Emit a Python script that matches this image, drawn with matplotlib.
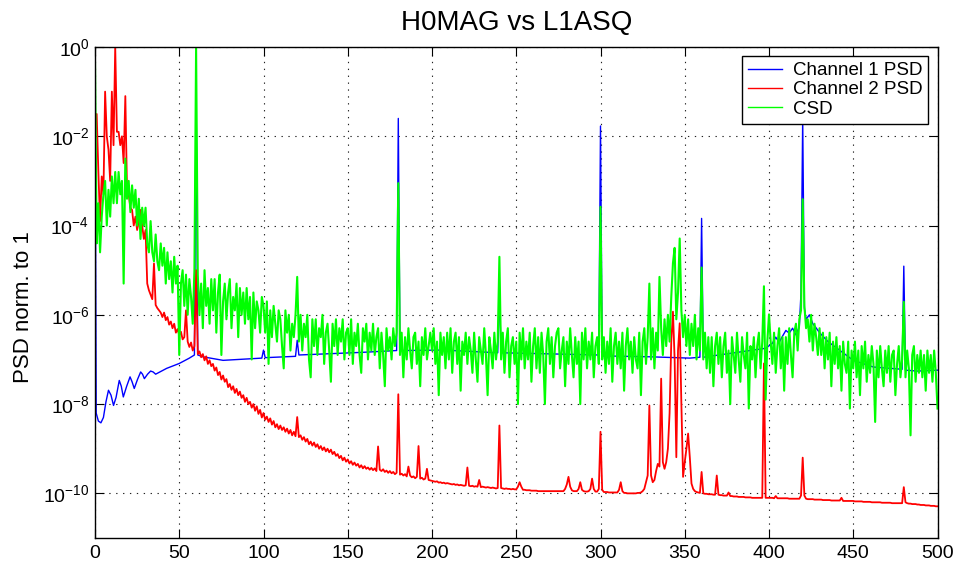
import numpy as np
import matplotlib
matplotlib.use("Agg")
import matplotlib.pyplot as plt
from matplotlib.ticker import LogFormatterSciNotation, NullLocator, FixedLocator

plt.rcParams['font.family'] = ['Liberation Sans', 'DejaVu Sans']
plt.rcParams['mathtext.fontset'] = 'custom'
plt.rcParams['mathtext.rm'] = 'Liberation Sans'
plt.rcParams['path.simplify'] = False

# ---------------------------------------------------------------- data
title = "H0MAG vs L1ASQ"
ylabel = "PSD norm. to 1"
series_names = ["Channel 1 PSD", "Channel 2 PSD", "CSD"]
x_ticks = [0, 50, 100, 150, 200, 250, 300, 350, 400, 450, 500]
y_ticks_exp = [0, -2, -4, -6, -8, -10]

# frequency grid (Hz) shared by channel 2 PSD and CSD
freq = list(range(0, 501))

# channel 1 PSD: frequency knots (Hz) and log10 values
ch1_freq = [0, 0.7, 2, 3.5, 5, 6.5, 8, 9.5, 11, 12.5, 14.4, 15.6, 16.8, 18.8,
            20.8, 22, 23.3, 25.2, 27.1, 28.2, 29.3, 31.2, 33, 34.5, 36, 39,
            42.5, 50, 56, 59, 60, 61, 64, 76, 99, 100, 101, 119, 120, 121,
            159, 179, 180, 181, 207, 239, 240, 241, 299, 300, 301, 329, 353,
            359, 360, 361, 398, 402, 404, 406, 408, 410, 412, 414, 416, 418,
            419, 420, 421, 422, 424, 426, 427.7, 430, 435, 450, 462, 479,
            480, 481, 488, 500]
ch1_log = [-0.5, -8.2, -8.38, -8.42, -8.3, -7.95, -7.69, -7.8, -8.03, -7.85,
           -7.47, -7.6, -7.84, -7.6, -7.39, -7.5, -7.65, -7.45, -7.28, -7.33,
           -7.43, -7.33, -7.26, -7.28, -7.33, -7.27, -7.2, -7.09, -6.97, -6.9,
           -1.0, -6.9, -6.94, -7.02, -6.97, -6.79, -6.96, -6.93, -6.57, -6.9,
           -6.84, -6.8, -1.6, -6.8, -6.79, -6.85, -5.5, -6.85, -6.9, -1.77,
           -6.92, -6.94, -6.97, -6.95, -3.84, -6.95, -6.75, -6.64, -6.5,
           -6.62, -6.48, -6.35, -6.41, -6.3, -6.45, -6.27, -5.5, -1.6, -5.85,
           -6.1, -6.0, -6.2, -6.28, -6.4, -6.6, -7.02, -7.17, -7.22, -4.91,
           -7.24, -7.26, -7.24]

# channel 2 PSD: log10 value at each 1 Hz bin
ch2_log = [
    -1.6, -1.5, -2.8, -3.9, -2.9, -3.3, -1.0, -2.0, -2.3, -3.0,
    -1.0, -2.2, 0.0, -1.9, -1.9, -2.2, -2.0, -2.6, -1.1, -3.2,
    -3.3, -3.6, -3.65, -4.0, -3.8, -4.1, -3.9, -3.65, -4.0, -4.3,
    -4.1, -5.3, -5.45, -5.55, -5.65, -4.85, -5.78, -5.85, -5.9, -5.95,
    -6.05, -5.95, -6.12, -6.05, -6.22, -6.15, -6.3, -6.2, -6.4, -6.32,
    -6.45, -6.38, -6.55, -6.5, -5.9, -6.6, -6.72, -6.62, -6.8, -6.7,
    -5.0, -6.88, -6.82, -6.95, -6.88, -7.02, -6.93, -7.1, -7.02, -7.15,
    -7.1, -7.25, -7.18, -7.35, -7.28, -7.45, -7.36, -7.5, -7.44, -7.62,
    -7.55, -7.68, -7.6, -7.75, -7.66, -7.8, -7.72, -7.86, -7.8, -7.95,
    -7.86, -8.0, -7.95, -8.08, -8.0, -8.15, -8.05, -8.22, -8.13, -8.3,
    -8.2, -8.35, -8.28, -8.4, -8.32, -8.46, -8.38, -8.52, -8.45, -8.56,
    -8.48, -8.58, -8.52, -8.62, -8.55, -8.66, -8.58, -8.7, -8.62, -8.72,
    -8.29, -8.74, -8.7, -8.8, -8.74, -8.84, -8.78, -8.9, -8.84, -8.93,
    -8.86, -8.96, -8.9, -9.0, -8.94, -9.03, -8.97, -9.06, -9.0, -9.08,
    -9.02, -9.12, -9.07, -9.16, -9.12, -9.21, -9.16, -9.26, -9.2, -9.29,
    -9.24, -9.33, -9.28, -9.36, -9.31, -9.38, -9.34, -9.42, -9.37, -9.44,
    -9.39, -9.45, -9.42, -9.47, -9.43, -9.48, -9.44, -9.5, -8.95, -9.47,
    -9.5, -9.46, -9.52, -9.49, -9.54, -9.5, -9.55, -9.52, -9.57, -9.54,
    -7.78, -9.58, -9.56, -9.6, -9.57, -9.62, -9.4, -9.6, -9.64, -9.62,
    -9.66, -9.63, -8.94, -9.67, -9.65, -9.69, -9.67, -9.45, -9.7, -9.71,
    -9.72, -9.73, -9.74, -9.73, -9.76, -9.75, -9.77, -9.76, -9.78, -9.77,
    -9.78, -9.79, -9.8, -9.79, -9.81, -9.8, -9.82, -9.81, -9.82, -9.83,
    -9.82, -9.42, -9.83, -9.84, -9.83, -9.85, -9.84, -9.85, -9.7, -9.86,
    -9.85, -9.86, -9.87, -9.86, -9.87, -9.88, -9.87, -9.88, -9.89, -9.88,
    -8.48, -9.88, -9.89, -9.9, -9.89, -9.9, -9.9, -9.91, -9.9, -9.91,
    -9.91, -9.85, -9.75, -9.85, -9.92, -9.92, -9.93, -9.93, -9.93, -9.94,
    -9.94, -9.94, -9.94, -9.95, -9.95, -9.95, -9.95, -9.95, -9.95, -9.95,
    -9.95, -9.95, -9.95, -9.95, -9.95, -9.95, -9.95, -9.95, -9.95, -9.9,
    -9.8, -9.63, -9.85, -9.93, -9.95, -9.95, -9.95, -9.9, -9.75, -9.92,
    -9.95, -9.96, -9.96, -9.95, -9.9, -9.67, -9.9, -9.96, -9.96, -9.9,
    -8.62, -9.92, -9.97, -9.97, -9.97, -9.98, -9.98, -9.98, -9.98, -9.98,
    -9.98, -9.92, -9.75, -9.95, -9.99, -9.99, -10.0, -10.0, -10.0, -10.0,
    -10.0, -10.0, -9.99, -9.99, -9.98, -9.95, -9.9, -9.75, -9.6, -8.03,
    -9.6, -9.75, -9.7, -9.5, -9.34, -9.4, -7.43, -9.3, -9.45, -9.3,
    -9.0, -8.2, -6.6, -5.93, -7.0, -9.19, -6.8, -6.19, -8.0, -9.63,
    -9.3, -9.0, -8.66, -9.19, -9.78, -9.9, -9.95, -9.97, -9.98, -9.99,
    -9.52, -10.0, -10.01, -10.01, -10.02, -10.02, -10.02, -10.03, -10.03, -9.6,
    -10.03, -10.04, -10.04, -10.05, -10.05, -10.05, -9.98, -10.06, -10.06, -10.07,
    -10.07, -10.07, -10.08, -10.08, -10.08, -10.08, -10.09, -10.09, -10.09, -10.09,
    -10.1, -10.1, -10.1, -10.1, -10.1, -10.1, -10.1, -7.09, -10.1, -10.1,
    -10.1, -10.1, -10.1, -10.11, -10.06, -10.11, -10.11, -10.11, -10.11, -10.11,
    -10.11, -10.11, -10.12, -10.12, -10.12, -10.12, -10.12, -10.12, -10.12, -10.05,
    -9.2, -10.05, -10.12, -10.13, -10.13, -10.13, -10.13, -10.14, -10.14, -10.14,
    -10.14, -10.14, -10.15, -10.15, -10.15, -10.15, -10.15, -10.16, -10.16, -10.16,
    -10.16, -10.16, -10.16, -10.1, -10.17, -10.17, -10.17, -10.17, -10.17, -10.17,
    -10.17, -10.18, -10.18, -10.18, -10.18, -10.18, -10.19, -10.19, -10.19, -10.19,
    -10.19, -10.2, -10.2, -10.2, -10.2, -10.2, -10.2, -10.21, -10.21, -10.21,
    -10.21, -10.21, -10.21, -10.22, -10.22, -10.22, -10.22, -10.22, -10.22, -10.22,
    -9.86, -10.2, -10.22, -10.23, -10.23, -10.24, -10.24, -10.24, -10.25, -10.25,
    -10.26, -10.26, -10.26, -10.27, -10.27, -10.27, -10.28, -10.28, -10.28, -10.29,
    -10.29,
]

# cross spectral density: log10 value at each 1 Hz bin
csd_log = [
    -0.35, -4.4, -3.5, -4.6, -3.8, -3.3, -3.0, -4.0, -3.2, -3.8,
    -2.9, -3.5, -2.8, -3.5, -2.8, -3.3, -3.0, -5.3, -2.5, -3.4,
    -3.0, -3.7, -3.1, -3.6, -3.2, -4.0, -3.4, -4.3, -3.6, -4.0,
    -3.6, -4.4, -4.6, -3.9, -4.6, -4.8, -4.2, -4.8, -5.0, -4.4,
    -4.9, -4.5, -5.3, -4.6, -5.2, -4.8, -5.5, -4.7, -5.3, -4.9,
    -6.9, -5.3, -5.0, -5.8, -5.1, -6.0, -5.2, -5.6, -6.2, -5.0,
    0.0, -5.1, -6.0, -5.3, -6.3, -5.0, -5.8, -5.4, -6.2, -5.2,
    -5.9, -5.2, -6.4, -5.5, -5.1, -6.9, -5.7, -5.3, -6.1, -5.5,
    -5.2, -6.3, -5.6, -5.9, -5.3, -6.5, -5.4, -6.0, -5.5, -6.2,
    -5.4, -6.1, -5.6, -7.0, -5.5, -6.3, -5.7, -5.9, -6.4, -5.6,
    -5.8, -6.4, -5.7, -7.1, -5.9, -6.5, -5.8, -6.2, -6.6, -5.9,
    -6.1, -6.7, -7.2, -5.9, -6.4, -6.0, -6.8, -6.2, -6.5, -6.0,
    -5.15, -6.6, -6.0, -6.8, -6.2, -6.5, -6.0, -7.0, -7.4, -6.1,
    -6.7, -6.1, -6.9, -6.3, -6.5, -6.0, -7.1, -6.4, -6.2, -6.8,
    -7.5, -6.2, -6.7, -6.1, -6.9, -6.3, -6.6, -6.1, -7.0, -6.4,
    -6.3, -6.9, -6.1, -7.1, -6.4, -6.7, -6.2, -6.9, -7.3, -6.3,
    -6.6, -6.2, -7.0, -6.4, -6.8, -6.2, -6.9, -6.5, -6.3, -7.2,
    -6.4, -6.9, -7.6, -6.3, -6.8, -6.5, -7.0, -6.3, -6.7, -6.4,
    -3.05, -6.9, -6.4, -7.4, -6.5, -7.0, -6.3, -6.8, -7.2, -6.5,
    -6.4, -7.1, -6.6, -7.6, -6.5, -6.9, -6.3, -7.0, -6.7, -6.4,
    -6.8, -6.3, -7.1, -6.6, -7.8, -6.4, -6.9, -6.5, -7.2, -6.4,
    -7.0, -6.3, -7.3, -6.6, -6.4, -7.1, -6.5, -7.7, -6.6, -6.9,
    -6.4, -7.1, -6.5, -6.8, -7.3, -6.4, -7.0, -7.5, -6.5, -6.8,
    -7.1, -6.3, -6.9, -7.8, -6.5, -6.8, -7.2, -6.4, -7.0, -6.6,
    -4.7, -7.0, -6.4, -7.3, -6.6, -6.3, -7.4, -6.7, -6.5, -7.1,
    -6.6, -8.0, -6.4, -7.0, -6.3, -7.2, -6.6, -7.0, -6.4, -7.5,
    -6.7, -6.3, -7.2, -6.5, -7.3, -6.4, -6.9, -8.0, -6.6, -6.3,
    -7.1, -6.5, -7.4, -6.7, -6.4, -6.3, -7.2, -6.8, -6.5, -7.6,
    -6.6, -7.1, -6.3, -6.9, -7.4, -6.5, -7.1, -6.6, -8.0, -6.4,
    -7.0, -6.3, -7.2, -6.6, -7.0, -6.4, -7.4, -6.7, -6.5, -7.1,
    -3.58, -7.0, -6.5, -7.3, -6.6, -7.1, -6.3, -7.5, -6.7, -6.4,
    -7.1, -6.6, -7.2, -6.4, -7.7, -6.7, -6.3, -7.0, -6.6, -7.3,
    -6.5, -7.0, -7.2, -6.4, -7.8, -6.6, -6.3, -7.1, -6.5, -5.3,
    -7.0, -6.3, -7.2, -6.4, -6.8, -5.15, -6.3, -6.9, -6.1, -6.7,
    -6.0, -6.6, -5.6, -4.84, -4.5, -6.1, -5.5, -4.29, -5.9, -6.5,
    -6.0, -6.7, -6.1, -6.9, -6.2, -6.7, -6.0, -7.0, -6.3, -6.8,
    -4.94, -7.0, -6.4, -7.2, -6.5, -7.3, -6.5, -7.6, -6.7, -6.4,
    -7.1, -6.5, -7.4, -6.7, -6.4, -7.3, -6.8, -8.0, -6.5, -6.9,
    -7.3, -6.4, -7.0, -7.5, -6.5, -6.9, -7.2, -6.4, -8.1, -6.7,
    -7.0, -6.5, -7.4, -6.7, -6.4, -7.2, -6.6, -5.36, -7.9, -6.6,
    -5.99, -6.6, -7.1, -6.4, -7.3, -6.7, -6.3, -7.2, -6.5, -7.7,
    -6.5, -7.1, -6.3, -6.9, -7.4, -6.4, -6.2, -6.8, -6.1, -5.9,
    -3.41, -5.8, -6.3, -6.1, -6.6, -6.0, -6.8, -6.2, -6.5, -6.9,
    -6.3, -6.9, -6.4, -7.2, -6.5, -7.0, -6.4, -7.6, -6.6, -7.1,
    -6.5, -7.2, -6.7, -7.7, -6.6, -7.1, -7.3, -6.6, -8.1, -6.8,
    -7.2, -6.6, -7.4, -6.8, -7.8, -6.7, -7.2, -6.6, -7.5, -6.9,
    -7.3, -6.7, -7.1, -8.4, -6.8, -7.4, -6.7, -7.2, -7.6, -6.8,
    -7.3, -6.7, -7.5, -6.9, -6.8, -7.8, -7.1, -6.7, -7.4, -7.0,
    -5.71, -7.4, -6.8, -7.2, -8.7, -6.9, -6.7, -7.5, -6.9, -7.3,
    -6.8, -7.4, -6.9, -7.7, -6.8, -7.3, -6.9, -7.5, -6.8, -7.3,
    -8.1,
]

# ---------------------------------------------------------------- figure
fig = plt.figure(figsize=(9.58, 5.67), dpi=100)
ax = fig.add_axes([95 / 958, 1 - 538 / 567, (937.5 - 95) / 958, (538 - 47) / 567])

ax.semilogy(ch1_freq, np.power(10.0, ch1_log), color=(0, 0, 1), lw=1.0,
            label=series_names[0])
ax.semilogy(freq, np.power(10.0, ch2_log), color=(1, 0, 0), lw=1.3,
            label=series_names[1])
ax.semilogy(freq, np.power(10.0, csd_log), color=(0, 1, 0), lw=1.5,
            label=series_names[2])

ax.set_xlim(0, 500)
ax.set_ylim(1e-11, 1e0)
ax.set_xticks(x_ticks)
ax.yaxis.set_major_locator(FixedLocator([10.0 ** e for e in y_ticks_exp]))
ax.yaxis.set_major_formatter(LogFormatterSciNotation())
ax.yaxis.set_minor_locator(NullLocator())

ax.tick_params(direction='in', top=True, right=True, length=6.5, width=0.8,
               labelsize=14)
ax.tick_params(axis='x', pad=5)
ax.tick_params(axis='y', pad=4)
ax.grid(True, which='major', color='#222222', linestyle=(0, (1.2, 5)),
        linewidth=0.8)
for sp in ax.spines.values():
    sp.set_linewidth(1.0)
    sp.set_color('black')

ax.set_title(title, fontsize=20, pad=12)
ax.set_ylabel(ylabel, fontsize=16)
ax.yaxis.set_label_coords(-0.072, 0.47)

leg = ax.legend(loc='upper right', fontsize=13.5, frameon=True, fancybox=False,
                edgecolor='black', framealpha=1.0, borderpad=0.3,
                labelspacing=0.12, handlelength=1.8, handletextpad=0.6,
                borderaxespad=0.5)
leg.get_frame().set_linewidth(1.0)
for line in leg.get_lines():
    line.set_linewidth(1.0)

fig.savefig("out.png", dpi=100, facecolor='white')
